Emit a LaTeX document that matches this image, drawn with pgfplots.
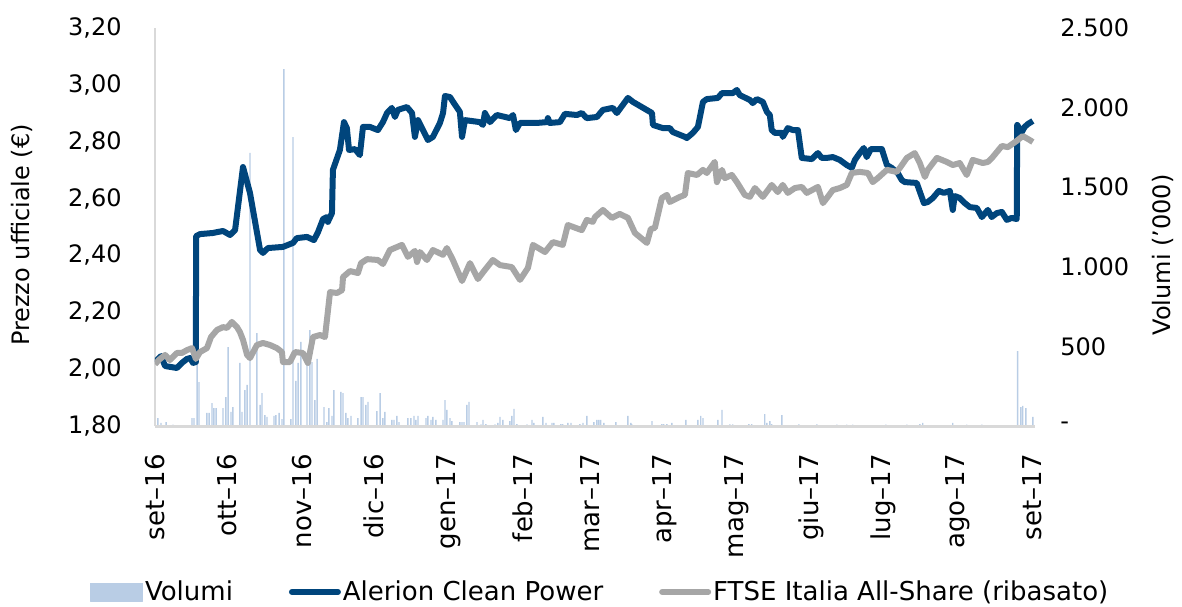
\documentclass[border=0pt]{standalone}
\usepackage{pgfplots}
\pgfplotsset{compat=1.18}
\usepackage{fontspec}
\setmainfont{DejaVu Sans}
\definecolor{blu}{HTML}{00457C}
\definecolor{grigio}{HTML}{A6A6A6}
\definecolor{vol}{HTML}{B9CDE5}
\definecolor{asse}{HTML}{D9D9D9}

\begin{document}
\fontsize{12}{14}\selectfont
\begin{tikzpicture}[font=\fontsize{12}{14}\selectfont]
\path[use as bounding box] (-77.5pt,-90pt) rectangle (513.5pt,213pt);
% ---------- volumes (right axis) ----------
\begin{axis}[
  scale only axis, width=440pt, height=199pt,
  xmin=0, xmax=366, ymin=0, ymax=2500,
  axis x line=none, axis y line*=right,
  y axis line style={draw=none},
  ytick={0,500,1000,1500,2000,2500},
  yticklabels={-,500,{1.000},{1.500},{2.000},{2.500}},
  major tick length=0pt,
  yticklabel style={anchor=west, xshift=8.5pt},
  ylabel={Volumi ('000)},
  every axis y label/.style={at={(axis description cs:1.145,0.43)},rotate=90,anchor=center},
]
\addplot[ybar, bar width=0.7pt, fill=vol, draw=none] coordinates {
(1.2,50) (2.5,20) (4.6,25) (7.5,8) (15.4,50) (16.2,50) (17.5,396) (18.3,276)
(21.6,82) (22.5,82) (23.7,144) (24.5,113) (25.4,113) (28.3,113) (29.5,182) (30.4,496)
(31.6,88) (32.4,119) (35.3,396) (36.2,88) (37.4,226) (38.3,258) (39.5,1715) (42.4,584)
(43.7,132) (44.5,207) (45.7,69) (46.6,57) (49.5,63) (50.3,69) (51.6,82) (52.8,44)
(53.6,2242) (56.5,44) (57.4,1815) (58.6,283) (59.5,396) (60.7,528) (63.2,402) (64.4,603)
(65.3,402) (66.5,163) (67.4,421) (70.3,119) (71.5,25) (72.3,113) (73.6,63) (74.4,226)
(77.3,214) (78.2,207) (79.4,82) (80.2,50) (81.5,63) (84.4,50) (85.7,182) (86.5,182)
(87.7,132) (88.6,151) (92.3,94) (93.6,207) (94.8,50) (95.6,88) (98.5,38) (99.4,38)
(100.6,63) (101.5,25) (105.2,50) (106.4,50) (107.7,63) (108.5,38) (109.4,63) (112.7,50)
(113.5,63) (114.8,38) (115.6,57) (116.8,38) (119.8,38) (120.6,163) (121.4,101) (122.7,50)
(123.5,30) (126.8,25) (127.7,25) (128.5,25) (129.7,132) (130.6,151) (133.9,25) (135.6,10)
(136.4,38) (137.6,12) (141.4,10) (142.6,20) (143.5,57) (144.7,38) (147.6,30) (148.4,63)
(149.3,107) (150.5,12) (154.7,10) (156.8,38) (157.6,20) (161.3,57) (162.6,20) (165.1,20)
(165.9,20) (168.8,12) (169.6,12) (171.7,20) (173.0,20) (176.7,12) (178.0,20) (179.6,63)
(182.5,25) (183.8,38) (184.6,38) (185.4,38) (186.7,20) (191.7,25) (196.7,63) (197.9,20)
(198.3,12) (206.7,30) (210.8,12) (211.6,12) (212.9,12) (215.0,20) (220.8,38) (225.8,38)
(227.0,63) (227.9,50) (234.1,38) (235.8,101) (239.1,10) (240.3,10) (247.0,12) (248.2,12)
(253.6,75) (254.5,20) (255.7,30) (256.5,12) (260.7,69) (267.8,10) (275.3,10) (283.6,8)
(287.7,8) (290.2,8) (304.0,8) (312.7,8) (318.1,12) (319.3,20) (331.8,20) (337.6,8)
(343.9,8) (358.8,471) (360.1,119) (360.9,126) (362.2,113) (365.1,57)
};
\end{axis}
% ---------- prices (left axis) ----------
\begin{axis}[
  scale only axis, width=440pt, height=199pt,
  xmin=0, xmax=366, ymin=1.8, ymax=3.2,
  axis x line*=bottom, axis y line*=left,
  x axis line style={draw=asse, line width=1.5pt, -},
  y axis line style={draw=asse, line width=1pt, -},
  xtick={0,30,61,91,122,153,181,212,242,273,303,334,365},
  xticklabels={set--16,ott--16,nov--16,dic--16,gen--17,feb--17,mar--17,apr--17,mag--17,giu--17,lug--17,ago--17,set--17},
  xticklabel style={font=\fontsize{13}{15}\selectfont, rotate=90, anchor=east, inner xsep=14pt},
  ytick={1.8,2.0,2.2,2.4,2.6,2.8,3.0,3.2},
  /pgf/number format/fixed, /pgf/number format/fixed zerofill,
  /pgf/number format/precision=2, /pgf/number format/use comma,
  yticklabel style={xshift=-12.5pt},
  /pgf/number format/assume math mode=true,
  major tick length=0pt,
  ylabel={Prezzo ufficiale (€)},
  every axis y label/.style={at={(axis description cs:-0.151,0.48)},rotate=90,anchor=center},
  legend style={at={(axis description cs:0.506,-0.417)}, anchor=center, draw=none, fill=none,
    font=\fontsize{13}{15}\selectfont,
    legend columns=3, /tikz/every odd column/.append style={column sep=0pt},
    /tikz/every even column/.append style={column sep=27pt},
    nodes={inner xsep=1pt}},
  legend image code/.code={\draw[#1, line width=3pt, line cap=round] (0pt,0pt) -- (23pt,0pt);},
  line join=round,
]
\addlegendimage{legend image code/.code={\fill[vol] (0pt,-4.5pt) rectangle (26pt,4.5pt);}}
\addlegendentry{Volumi}
\addplot[blu, line width=3pt, no markers] coordinates {
(0.0,2.025) (2.5,2.046) (4.2,2.011) (9.1,2.004) (11.2,2.022) (13.3,2.036) (14.6,2.039) (15.8,2.022)
(17.0,2.025) (17.1,2.468) (18.7,2.475) (24.1,2.479) (25.8,2.482) (28.3,2.486) (31.2,2.472) (33.3,2.489)
(36.6,2.711) (39.5,2.620) (43.7,2.419) (44.9,2.409) (47.0,2.426) (53.2,2.430) (57.4,2.444) (59.0,2.461)
(63.2,2.465) (66.1,2.454) (67.8,2.482) (69.9,2.528) (71.5,2.535) (71.9,2.518) (73.6,2.549) (74.0,2.701)
(76.9,2.771) (78.6,2.869) (79.8,2.848) (80.7,2.771) (83.2,2.774) (85.2,2.753) (86.5,2.852) (89.4,2.852)
(92.7,2.841) (94.8,2.869) (96.5,2.901) (98.5,2.919) (99.8,2.887) (101.0,2.912) (104.8,2.922) (106.9,2.901)
(108.1,2.817) (109.4,2.876) (113.5,2.806) (115.6,2.817) (118.5,2.866) (119.8,2.901) (120.6,2.961) (122.7,2.957)
(124.3,2.936) (126.8,2.905) (127.7,2.817) (128.9,2.876) (135.1,2.869) (136.4,2.859) (137.2,2.901) (139.3,2.869)
(142.2,2.894) (147.6,2.883) (148.9,2.894) (150.1,2.841) (151.8,2.866) (158.8,2.866) (163.0,2.869) (163.4,2.883)
(164.2,2.866) (168.4,2.869) (170.5,2.898) (175.5,2.894) (177.5,2.901) (179.6,2.883) (183.8,2.887) (186.3,2.912)
(190.4,2.919) (192.1,2.901) (196.7,2.954) (198.8,2.940) (206.7,2.901) (207.1,2.859) (211.2,2.848) (214.1,2.848)
(215.4,2.834) (220.4,2.817) (221.2,2.813) (223.7,2.831) (225.8,2.852) (227.9,2.940) (229.5,2.950) (234.1,2.954)
(235.8,2.971) (240.3,2.971) (242.0,2.982) (243.2,2.964) (247.4,2.947) (248.6,2.936) (250.3,2.950) (252.8,2.940)
(254.5,2.905) (255.7,2.894) (256.5,2.841) (257.8,2.831) (260.7,2.831) (261.1,2.817) (263.2,2.848) (265.3,2.841)
(267.4,2.841) (269.0,2.743) (273.2,2.739) (275.7,2.760) (277.3,2.743) (279.4,2.743) (281.9,2.746) (284.8,2.736)
(287.7,2.718) (289.8,2.708) (291.1,2.736) (293.1,2.760) (294.8,2.778) (296.0,2.746) (297.7,2.774) (302.3,2.774)
(304.4,2.718) (306.4,2.708) (308.9,2.690) (310.6,2.665) (311.9,2.658) (316.8,2.655) (319.8,2.584) (321.4,2.588)
(323.5,2.602) (326.0,2.627) (328.1,2.620) (330.6,2.627) (331.8,2.560) (332.6,2.609) (334.7,2.602) (336.8,2.584)
(338.9,2.570) (341.8,2.567) (343.9,2.535) (346.4,2.560) (348.0,2.535) (350.1,2.549) (352.2,2.553) (354.3,2.525)
(356.3,2.532) (358.4,2.528) (358.6,2.859) (360.5,2.834) (361.7,2.852) (363.0,2.862) (365.1,2.873)
};
\addlegendentry{Alerion Clean Power}
\addplot[grigio, line width=3pt, no markers] coordinates {
(0.0,2.018) (2.1,2.036) (4.2,2.050) (6.2,2.032) (9.1,2.057) (11.2,2.057) (13.3,2.067) (15.4,2.074)
(17.0,2.036) (18.7,2.060) (21.6,2.074) (23.3,2.113) (25.8,2.138) (28.3,2.148) (29.9,2.145) (32.0,2.166)
(34.1,2.148) (35.3,2.131) (36.6,2.103) (38.3,2.050) (39.5,2.039) (42.4,2.085) (44.9,2.092) (47.8,2.085)
(50.7,2.074) (52.8,2.060) (53.2,2.025) (56.1,2.025) (58.2,2.060) (61.5,2.057) (63.6,2.022) (65.7,2.113)
(68.6,2.120) (70.7,2.113) (72.8,2.271) (75.7,2.268) (77.8,2.278) (78.2,2.324) (81.1,2.345) (84.4,2.338)
(85.7,2.373) (88.2,2.387) (92.7,2.384) (94.8,2.370) (97.7,2.419) (102.7,2.437) (105.2,2.395) (108.1,2.416)
(109.0,2.377) (110.2,2.412) (113.1,2.384) (115.6,2.419) (119.8,2.402) (121.4,2.426) (123.9,2.384) (127.7,2.310)
(131.0,2.373) (134.3,2.317) (137.2,2.349) (140.5,2.384) (143.5,2.366) (148.4,2.359) (151.8,2.314) (155.1,2.356)
(157.2,2.437) (162.2,2.412) (165.5,2.447) (169.6,2.437) (171.7,2.507) (177.5,2.489) (179.6,2.525) (182.1,2.518)
(183.0,2.535) (186.3,2.560) (190.0,2.532) (193.3,2.546) (196.7,2.532) (199.6,2.479) (204.6,2.444) (206.2,2.493)
(207.9,2.497) (210.8,2.602) (212.9,2.613) (214.1,2.588) (218.3,2.606) (220.4,2.613) (221.6,2.690) (225.4,2.683)
(227.9,2.701) (229.5,2.690) (232.8,2.729) (233.7,2.658) (235.8,2.701) (237.0,2.672) (239.9,2.683) (242.0,2.658)
(245.3,2.613) (247.4,2.606) (249.5,2.637) (252.8,2.606) (256.5,2.648) (259.0,2.623) (261.1,2.648) (263.2,2.620)
(266.1,2.637) (269.0,2.641) (271.1,2.620) (275.7,2.641) (277.8,2.584) (279.8,2.606) (281.9,2.630) (284.8,2.637)
(287.7,2.648) (289.8,2.690) (293.1,2.694) (296.5,2.690) (298.5,2.658) (300.6,2.672) (304.4,2.701) (308.5,2.694)
(309.8,2.708) (312.7,2.743) (316.0,2.760) (318.1,2.725) (320.2,2.676) (321.4,2.701) (325.2,2.743) (329.3,2.729)
(331.8,2.718) (334.7,2.725) (337.6,2.683) (340.1,2.736) (344.3,2.725) (346.4,2.729) (348.4,2.746) (352.2,2.785)
(354.7,2.781) (358.4,2.803) (360.9,2.820) (363.8,2.806) (365.1,2.799)
};
\addlegendentry{FTSE Italia All-Share (ribasato)}
\end{axis}
\end{tikzpicture}
\end{document}
